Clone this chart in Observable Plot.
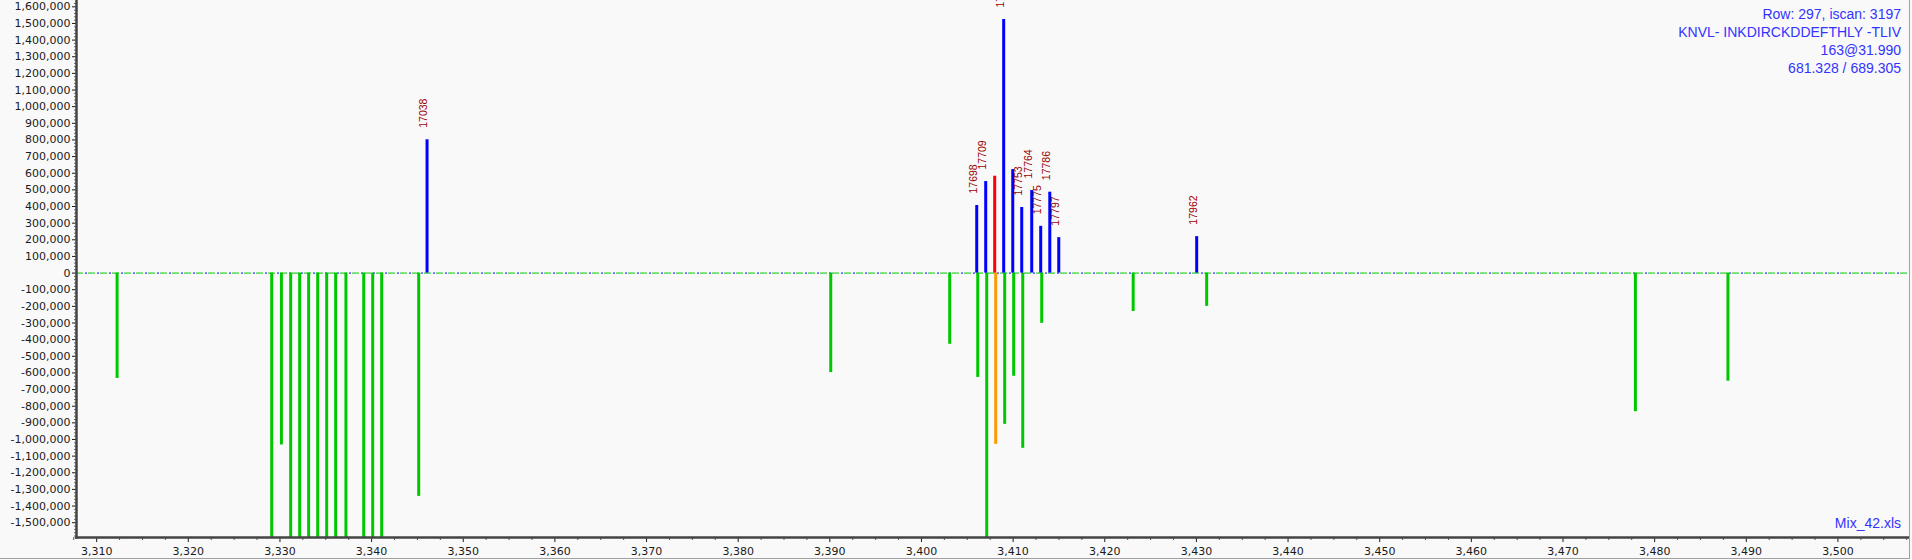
<!DOCTYPE html>
<html>
<head>
<meta charset="utf-8">
<script src="https://cdn.jsdelivr.net/npm/d3@7"></script>
<script src="https://cdn.jsdelivr.net/npm/@observablehq/plot@0.6"></script>
<style>
html, body { margin: 0; padding: 0; background: #f9f9f9; }
#wrap { position: relative; width: 1912px; height: 560px; overflow: hidden; background: #f9f9f9; }
#info { position: absolute; right: 11px; top: 5px; text-align: right; font-family: "Liberation Sans", Arial, sans-serif; font-size: 14px; line-height: 18px; color: #3333ff; white-space: pre; }
#file { position: absolute; right: 11px; top: 514px; text-align: right; font-family: "Liberation Sans", Arial, sans-serif; font-size: 14px; line-height: 18px; color: #3333ff; }
#edgeR { position: absolute; left: 1909px; top: 0; width: 1px; height: 559px; background: #a0a0a0; }
#edgeB { position: absolute; left: 0; top: 558px; width: 1910px; height: 1px; background: #a0a0a0; }
</style>
</head>
<body>
<div id="wrap">
  <div id="chart"></div>
  <div id="info"></div>
  <div id="file"></div>
  <div id="edgeR"></div>
  <div id="edgeB"></div>
</div>
<script>
// ---- data ----
const infoLines = ["Row: 297, iscan: 3197", "KNVL- INKDIRCKDDEFTHLY -TLIV", "163@31.990", "681.328 / 689.305"];
const fileName = "Mix_42.xls";

// observed peaks (blue, upward)
const blueMz    = [3346.05, 3406.03, 3407.01, 3408.97, 3409.96, 3410.94, 3412.03, 3413.01, 3414.00, 3414.98, 3430.03];
const blueInt   = [801000, 406000, 550000, 1524000, 622000, 394000, 496000, 281000, 486000, 213000, 219000];
const blueLabel = ["17038", "17698", "17709", "17731", "", "17753", "17764", "17775", "17786", "17797", "17962"];

// precursor peak (red, upward)
const redMz  = [3407.99];
const redInt = [582000];

// mirrored reference peaks (green, downward)
const greenMz  = [3312.23, 3329.10, 3330.16, 3331.17, 3332.15, 3333.13, 3334.12, 3335.10, 3336.08, 3337.20,
                  3339.14, 3340.12, 3341.10, 3345.14, 3390.10, 3403.08, 3406.14, 3407.12, 3409.08, 3410.06,
                  3411.05, 3413.12, 3423.10, 3431.12, 3477.90, 3488.00];
const greenInt = [-633000, -1650000, -1033000, -1650000, -1650000, -1650000, -1650000, -1650000, -1650000, -1650000,
                  -1650000, -1650000, -1650000, -1342000, -598000, -428000, -627000, -1650000, -909000, -620000,
                  -1053000, -302000, -231000, -200000, -833000, -650000];

// mirrored precursor (orange, downward)
const orangeMz  = [3408.10];
const orangeInt = [-1029000];

// axis ticks
const xTicks = d3.range(3310, 3501, 10);
const xMinor = d3.range(3307.5, 3508, 2.5).filter(v => v % 10 !== 0);
const yTicks = d3.range(-1500000, 1600001, 100000);
const yMinor = d3.range(-1580000, 1630001, 20000).filter(v => v % 100000 !== 0);

// ---- build tables ----
const blue = blueMz.map((mz, i) => ({mz, int: blueInt[i], label: blueLabel[i]}));
const red = redMz.map((mz, i) => ({mz, int: redInt[i]}));
const green = greenMz.map((mz, i) => ({mz, int: greenInt[i]}));
const orange = orangeMz.map((mz, i) => ({mz, int: orangeInt[i]}));

const fmtY = d => (d < 0 ? "-" : "") + d3.format(",")(Math.abs(d));
const fmtX = d3.format(",");

const chart = Plot.plot({
  width: 1912,
  height: 560,
  marginLeft: 76,
  marginRight: 4,
  marginTop: 0,
  marginBottom: 23,
  style: { background: "transparent", fontFamily: "DejaVu Sans", fontSize: "11px", overflow: "hidden" },
  x: { domain: [3307.8, 3507.7] },
  y: { domain: [-1589000, 1638000] },
  marks: [
    Plot.ruleY([0], { stroke: "#00c800", strokeWidth: 1, strokeDasharray: "7,5" }),
    Plot.ruleY([0], { stroke: "#0000ff", strokeWidth: 1, strokeDasharray: "2,10", strokeDashoffset: 3 }),
    Plot.ruleX(green, { x: "mz", y1: 0, y2: "int", stroke: "#00c800", strokeWidth: 3, clip: true }),
    Plot.ruleX(orange, { x: "mz", y1: 0, y2: "int", stroke: "#ff9900", strokeWidth: 3, clip: true }),
    Plot.ruleX(blue, { x: "mz", y1: 0, y2: "int", stroke: "#0000ff", strokeWidth: 3 }),
    Plot.ruleX(red, { x: "mz", y1: 0, y2: "int", stroke: "#ff0000", strokeWidth: 3 }),
    Plot.text(blue.filter(d => d.label), {
      x: "mz", y: "int", text: "label", rotate: -90, textAnchor: "start",
      dx: -3, dy: -12, fill: "#990000", fontSize: 10.5, fontFamily: "Liberation Sans"
    }),
    Plot.axisY(yMinor, { tickSize: 2, tickFormat: () => "", label: null, color: "#666" }),
    Plot.axisY(yTicks, { tickSize: 4, tickPadding: 2, tickFormat: fmtY, label: null, fontSize: 11, color: "#1a1a1a" }),
    Plot.axisX(xMinor, { tickSize: 3, tickFormat: () => "", label: null, color: "#555" }),
    Plot.axisX(xTicks, { tickSize: 5, tickPadding: 5, tickFormat: fmtX, label: null, fontSize: 11, color: "#1a1a1a" }),
    Plot.frame({ anchor: "left", stroke: "#444", strokeWidth: 2.5 }),
    Plot.frame({ anchor: "bottom", stroke: "#444", strokeWidth: 2.5 })
  ]
});
document.getElementById("chart").appendChild(chart);
document.getElementById("info").textContent = infoLines.join("\n");
document.getElementById("file").textContent = fileName;
</script>
</body>
</html>
